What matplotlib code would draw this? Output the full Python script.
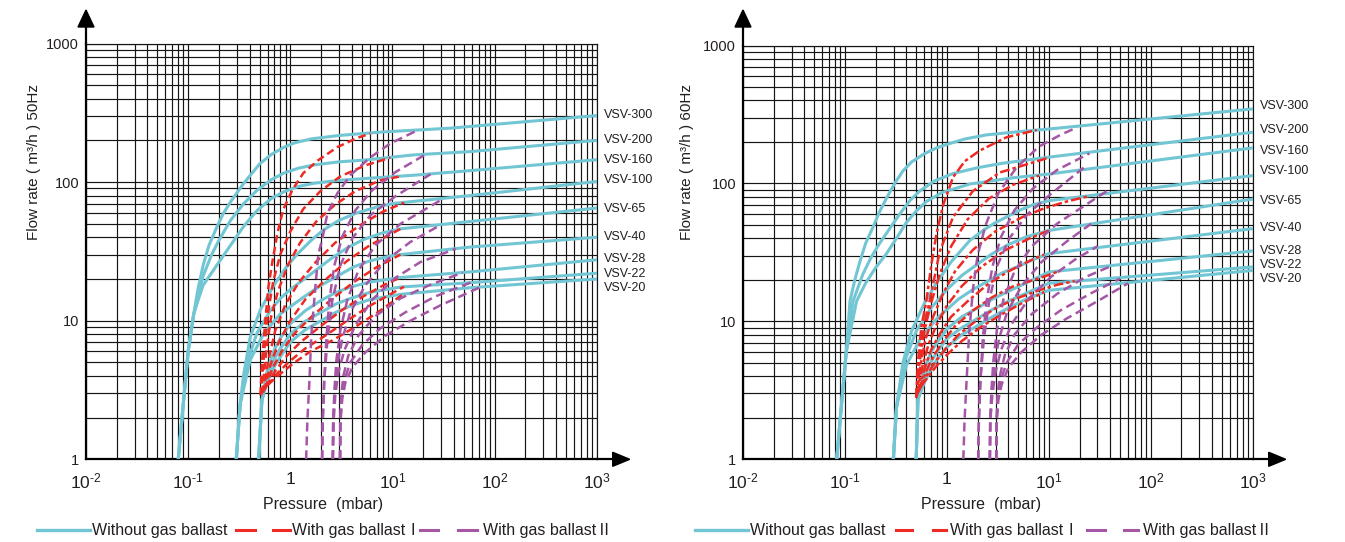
import matplotlib
matplotlib.use('Agg')
import matplotlib.pyplot as plt
from matplotlib.lines import Line2D
from matplotlib.patches import Polygon
from matplotlib.ticker import LogLocator, NullFormatter

# ---------------- data ----------------
MODELS = ['VSV-300', 'VSV-200', 'VSV-160', 'VSV-100', 'VSV-65',
          'VSV-40', 'VSV-28', 'VSV-22', 'VSV-20']
X_TICKS = [1e-2, 1e-1, 1, 1e1, 1e2, 1e3]
X_TICK_LABELS = [r'$\mathregular{10^{\text{-}2}}$', r'$\mathregular{10^{\text{-}1}}$', '1',
                 r'$\mathregular{10^{1}}$', r'$\mathregular{10^{2}}$', r'$\mathregular{10^{3}}$']
Y_TICKS = [1, 10, 100, 1000]
Y_TICK_LABELS = ['1', '10', '100', '1000']

# 50 Hz : (pressure mbar, flow m3/h)
CYAN_50 = {
    'VSV-300': ([0.08, 0.09, 0.10, 0.113, 0.125, 0.14, 0.16, 0.19, 0.22, 0.26, 0.35, 0.5, 0.65, 0.86, 1.1, 1.6, 3, 8, 37, 1000],
                [1, 2.6, 6, 11, 17, 25, 35, 47, 59, 72, 98, 135, 158, 178, 192, 205, 217, 230, 245, 302]),
    'VSV-200': ([0.08, 0.09, 0.10, 0.113, 0.125, 0.14, 0.17, 0.2, 0.26, 0.35, 0.47, 0.65, 0.86, 1.2, 1.7, 3, 5.2, 16, 58, 1000],
                [1, 2.6, 6, 11, 15, 21, 30, 38, 53, 70, 87, 104, 116, 126, 133, 140, 144, 157, 166, 200]),
    'VSV-160': ([0.08, 0.09, 0.10, 0.113, 0.125, 0.14, 0.19, 0.26, 0.35, 0.47, 0.65, 0.86, 1.2, 1.7, 3, 5.2, 16, 58, 1000],
                [1, 2.6, 6, 11, 14, 18, 25, 35, 48, 62, 76, 85, 93, 98, 103, 106, 112, 121, 145]),
    'VSV-100': ([0.296, 0.323, 0.35, 0.405, 0.51, 0.69, 0.9, 1.16, 1.6, 2.1, 3, 4.5, 7, 10, 58, 1000],
                [1, 2.5, 4.1, 7.6, 12, 18, 24, 30, 38, 45, 53, 60, 66, 70, 80, 101]),
    'VSV-65': ([0.296, 0.323, 0.376, 0.47, 0.64, 0.8, 1.0, 1.5, 2.5, 3.6, 5.2, 8, 12, 58, 1000],
               [1, 2.5, 4.9, 8.1, 11.9, 14.5, 16.8, 21, 28, 33.5, 38.5, 43, 46, 52, 65]),
    'VSV-40': ([0.296, 0.323, 0.405, 0.55, 0.8, 1.35, 2, 2.9, 4.2, 6, 9, 12, 58, 1000],
               [1, 2.5, 5.2, 8.1, 11.2, 14.8, 18, 21, 24.5, 27, 29, 30, 34, 40]),
    'VSV-28': ([0.49, 0.527, 0.6, 0.7, 0.8, 1, 1.4, 2, 2.8, 3.9, 6, 12, 58, 1000],
               [1, 2.66, 4.5, 6.2, 7.5, 9.5, 11.8, 14, 16, 17.5, 19, 20.5, 22.5, 27.5]),
    'VSV-22': ([0.49, 0.527, 0.6, 0.7, 0.8, 1, 1.4, 2, 2.8, 3.9, 6, 12, 58, 1000],
               [1, 2.66, 4, 5.3, 6.3, 8, 9.9, 11.5, 13.2, 14.5, 16, 17.5, 18.8, 22]),
    'VSV-20': ([0.49, 0.527, 0.6, 0.7, 0.8, 1, 1.4, 2, 2.8, 3.9, 6, 12, 58, 1000],
               [1, 2.66, 3.7, 4.7, 5.5, 7, 8.6, 10, 11.5, 12.8, 14.2, 15.5, 17.3, 20]),
}
RED_50 = {
    'VSV-300': ([0.51, 0.53, 0.57, 0.61, 0.67, 0.75, 0.85, 1.05, 1.34, 1.88, 2.9, 4.5, 6.1],
                [2.9, 5.2, 10, 17.4, 27, 43, 63, 88, 116, 144, 179, 208, 224]),
    'VSV-200': ([0.52, 0.556, 0.609, 0.681, 0.798, 1.0, 1.34, 1.97, 3.09, 5.43, 9.55],
                [2.9, 6.1, 11.8, 19.2, 30, 44, 64, 86, 110, 132, 150]),
    'VSV-160': ([0.531, 0.582, 0.651, 0.763, 0.956, 1.25, 1.8, 2.76, 4.34, 7.61, 12],
                [3, 6.1, 10.8, 16.6, 25.5, 36.6, 52, 69, 86, 103, 110]),
    'VSV-100': ([0.544, 0.609, 0.713, 0.893, 1.2, 1.76, 2.76, 4.86, 8, 13],
                [3.03, 5.16, 8.5, 13, 18.7, 26.3, 36.6, 49, 61, 71]),
    'VSV-65': ([0.556, 0.636, 0.763, 1.0, 1.4, 2.2, 3.6, 6, 9, 12],
               [3.13, 4.74, 6.86, 10, 14.2, 19.7, 27, 35, 41, 46]),
    'VSV-40': ([0.569, 0.667, 0.835, 1.12, 1.64, 2.6, 4.2, 6.8, 12],
               [3.24, 4.52, 6.1, 8.2, 10.8, 14.5, 19, 24, 30]),
    'VSV-28': ([0.582, 0.697, 0.893, 1.25, 1.97, 3.2, 5.2, 8.5, 12],
               [3.35, 4.23, 5.43, 6.97, 9.1, 11.9, 15, 18.3, 20.5]),
    'VSV-22': ([0.595, 0.729, 0.956, 1.4, 2.2, 3.6, 6, 9.5, 13],
               [3.4, 4.1, 5.0, 6.3, 7.8, 10, 12.8, 15.5, 17.6]),
    'VSV-20': ([0.609, 0.763, 1.05, 1.57, 2.58, 4.3, 7.2, 13],
               [3.47, 4.02, 4.87, 6.0, 7.2, 9, 11.5, 15.7]),
}
PURPLE_50 = {
    'VSV-300': ([1.43, 1.47, 1.54, 1.61, 1.76, 1.88, 2.06, 2.31, 2.89, 3.87, 6.09, 9.55, 17.5],
                [1, 1.9, 3.7, 8.1, 17.4, 30, 39, 59.5, 83, 112, 151, 190, 236]),
    'VSV-200': ([2.05, 2.08, 2.15, 2.25, 2.41, 2.7, 3.23, 4.34, 6.36, 10.7, 21],
                [1, 1.9, 3.7, 7.2, 14, 25, 40.4, 62.7, 87.5, 118, 158]),
    'VSV-160': ([2.05, 2.08, 2.15, 2.31, 2.58, 3.09, 4.05, 6.09, 10.7, 23.6],
                [1, 1.9, 3.7, 7.2, 14, 25, 39.4, 57.7, 79, 114]),
    'VSV-100': ([2.61, 2.63, 2.7, 2.83, 3.09, 3.62, 4.64, 6.81, 12, 31.5],
                [1, 1.9, 3.1, 5.2, 8.5, 14.2, 23, 35, 50, 76]),
    'VSV-65': ([2.61, 2.63, 2.73, 2.89, 3.23, 3.87, 5.43, 8.54, 15, 29.5],
               [1, 1.9, 3.1, 4.8, 7.4, 11.5, 18, 27, 37, 49]),
    'VSV-40': ([2.61, 2.66, 2.76, 2.95, 3.38, 4.34, 6.36, 10.7, 18.8, 41.7],
               [1, 1.9, 2.9, 4.2, 6.1, 9.3, 14.2, 20.4, 26.5, 33]),
    'VSV-28': ([3.07, 3.09, 3.16, 3.31, 3.7, 4.64, 6.81, 12, 23.6, 48.6],
               [1, 1.9, 2.9, 4.0, 5.6, 7.8, 10.8, 14.5, 18.2, 22.2]),
    'VSV-22': ([3.07, 3.09, 3.19, 3.38, 3.87, 5.08, 7.61, 13.4, 26.5, 58],
               [1, 1.9, 2.8, 3.7, 5, 6.7, 8.8, 11.5, 15, 18.8]),
    'VSV-20': ([3.07, 3.11, 3.23, 3.46, 4.05, 5.43, 8.54, 15, 29.5, 73],
               [1, 1.9, 2.74, 3.57, 4.6, 5.9, 7.8, 10, 12.9, 17.5]),
}

# 60 Hz
CYAN_60 = {
    'VSV-300': ([0.083, 0.093, 0.103, 0.112, 0.125, 0.14, 0.16, 0.188, 0.22, 0.26, 0.31, 0.37, 0.45, 0.6, 0.78, 1.0, 1.5, 2.45, 5, 10, 1000],
                [1, 2.6, 6, 14, 20, 27, 37, 48, 63, 80, 101, 123, 143, 164, 180, 192, 210, 225, 237, 248, 347]),
    'VSV-200': ([0.083, 0.093, 0.103, 0.12, 0.15, 0.18, 0.22, 0.28, 0.35, 0.44, 0.54, 0.75, 1.15, 2, 3.5, 10, 1000],
                [1, 2.6, 6, 14, 22, 29, 37, 48, 61, 76, 88, 104, 118, 130, 140, 155, 235]),
    'VSV-160': ([0.083, 0.093, 0.103, 0.13, 0.16, 0.2, 0.256, 0.32, 0.4, 0.5, 0.63, 0.9, 1.68, 4.5, 10, 1000],
                [1, 2.6, 6, 14, 19, 24.5, 31, 40, 52, 63, 74, 86, 99, 110, 117, 181]),
    'VSV-100': ([0.298, 0.321, 0.37, 0.45, 0.6, 0.79, 1.1, 1.68, 2.3, 3, 4, 5.2, 7, 10, 1000],
                [1, 2.4, 5, 8.5, 13.5, 19, 27, 38.6, 46, 52, 58, 64, 70, 75, 114]),
    'VSV-65': ([0.298, 0.321, 0.38, 0.5, 0.7, 1.0, 1.4, 2, 2.8, 4, 6, 10, 1000],
               [1, 2.4, 5, 8.5, 12.5, 17, 21.5, 26, 31, 36, 41, 45.6, 77]),
    'VSV-40': ([0.298, 0.321, 0.4, 0.55, 0.8, 1.3, 1.8, 2.5, 3.5, 5, 7, 10, 1000],
               [1, 2.4, 4.8, 7.5, 10.5, 14.5, 17, 19.5, 22.5, 25, 28, 31, 47]),
    'VSV-28': ([0.5, 0.52, 0.6, 0.7, 0.8, 1.0, 1.4, 2, 2.8, 4, 6, 10, 1000],
               [1, 2.7, 4.5, 6, 7, 8.8, 10.8, 12.5, 14.5, 16.5, 19, 22.8, 32.4]),
    'VSV-22': ([0.5, 0.52, 0.6, 0.7, 0.8, 1.0, 1.4, 2, 2.8, 4, 6, 10, 1000],
               [1, 2.7, 4, 5.1, 6, 7.5, 9, 10.5, 12.2, 14, 16, 18.9, 24.8]),
    'VSV-20': ([0.5, 0.52, 0.6, 0.7, 0.8, 1.0, 1.4, 2, 2.8, 4, 6, 10, 1000],
               [1, 2.7, 3.6, 4.5, 5.3, 6.5, 8, 9.3, 10.8, 12.5, 14.5, 16.8, 23.4]),
}
RED_60 = {
    'VSV-300': ([0.5, 0.52, 0.56, 0.63, 0.7, 0.79, 0.92, 1.15, 1.5, 2.1, 3.84, 7.6],
                [2.8, 5, 9, 14.2, 25, 43, 70, 111, 145, 173, 216, 244]),
    'VSV-200': ([0.5, 0.53, 0.58, 0.68, 0.85, 1.15, 1.8, 3.3, 7.0, 9.5],
                [2.8, 5, 8.5, 14.2, 32, 57, 88, 120, 142, 152]),
    'VSV-160': ([0.5, 0.54, 0.6, 0.7, 0.85, 1.1, 1.6, 2.6, 4.5, 8],
                [2.8, 5, 8.5, 13.5, 22, 35, 55, 78, 98, 114]),
    'VSV-100': ([0.51, 0.55, 0.62, 0.74, 0.92, 1.2, 1.8, 3, 5.5, 9, 15, 25],
                [2.9, 4.8, 7.5, 11, 16, 23, 33, 45, 57, 66, 74, 81]),
    'VSV-65': ([0.52, 0.57, 0.66, 0.8, 1.0, 1.4, 2.2, 3.8, 6.5, 10],
               [3, 4.6, 6.8, 9.6, 13, 18, 25, 33, 40, 45.6]),
    'VSV-40': ([0.53, 0.6, 0.7, 0.86, 1.1, 1.6, 2.5, 4, 6.5, 9],
               [3.1, 4.5, 6.2, 8.2, 10.8, 14, 18.5, 23, 27.5, 30.5]),
    'VSV-28': ([0.54, 0.62, 0.74, 0.92, 1.2, 1.8, 2.8, 4.5, 8, 13],
               [3.2, 4.3, 5.6, 7.2, 9.2, 12, 15, 18, 20.5, 23.3]),
    'VSV-22': ([0.55, 0.64, 0.77, 0.97, 1.3, 2, 3.2, 5, 8, 12, 18],
               [3.3, 4.1, 5.1, 6.3, 8, 10.3, 12.8, 14.8, 16.8, 18.4, 19.6]),
    'VSV-20': ([0.56, 0.66, 0.8, 1.02, 1.4, 2.2, 3.5, 5.5, 9],
               [3.4, 4, 4.8, 5.8, 7.2, 9.2, 11.3, 13.6, 16.3]),
}
PURPLE_60 = {
    'VSV-300': ([1.45, 1.49, 1.56, 1.65, 1.8, 2.0, 2.4, 3.2, 4.8, 8, 13, 19],
                [1, 1.9, 3.7, 8, 17, 30, 50, 85, 130, 185, 225, 255]),
    'VSV-200': ([2.03, 2.06, 2.13, 2.25, 2.45, 2.8, 3.4, 4.6, 7, 12, 25],
                [1, 1.9, 3.7, 7.5, 14, 25, 41, 64, 92, 125, 165]),
    'VSV-160': ([2.03, 2.06, 2.13, 2.3, 2.6, 3.1, 4.1, 6.2, 10.5, 22],
                [1, 1.9, 3.7, 7.3, 14, 25, 40, 60, 84, 130]),
    'VSV-100': ([2.64, 2.66, 2.73, 2.86, 3.1, 3.6, 4.6, 6.8, 12, 37],
                [1, 1.9, 3.1, 5.2, 8.7, 14.5, 23, 35, 51, 88]),
    'VSV-65': ([2.64, 2.66, 2.76, 2.92, 3.25, 3.9, 5.4, 8.5, 15, 26],
               [1, 1.9, 3.1, 4.8, 7.5, 11.7, 18, 27, 38, 51]),
    'VSV-40': ([2.64, 2.67, 2.79, 2.98, 3.4, 4.3, 6.3, 10.5, 18, 30],
               [1, 1.9, 2.9, 4.2, 6.2, 9.5, 14.5, 21, 28, 35]),
    'VSV-28': ([3.05, 3.07, 3.14, 3.3, 3.7, 4.6, 6.8, 12, 23, 40],
               [1, 1.9, 2.9, 4.0, 5.7, 8, 11.3, 15.8, 21, 25]),
    'VSV-22': ([3.05, 3.07, 3.17, 3.36, 3.85, 5.0, 7.6, 13, 26, 50],
               [1, 1.9, 2.8, 3.7, 5.0, 6.8, 9.0, 12, 16, 20.4]),
    'VSV-20': ([3.05, 3.09, 3.2, 3.45, 4, 5.4, 8.5, 15, 30, 60],
               [1, 1.9, 2.7, 3.5, 4.6, 6, 8, 10.5, 14, 18.9]),
}
# label heights (flow values beside the right edge)
LABEL_Q_50 = [304, 200, 144, 103, 63.5, 40.3, 27.7, 21.7, 17.3]
LABEL_Q_60 = [366, 242, 173, 124, 75.2, 47.7, 32.3, 25.5, 20.3]

# ---------------- style ----------------
W, H = 1345, 542
plt.rcParams['font.family'] = ['Liberation Sans', 'Noto Sans CJK SC', 'DejaVu Sans']
plt.rcParams['mathtext.fontset'] = 'custom'
plt.rcParams['mathtext.rm'] = 'Liberation Sans'
plt.rcParams['mathtext.it'] = 'Liberation Sans:italic'
plt.rcParams['mathtext.bf'] = 'Liberation Sans:bold'
plt.rcParams['lines.scale_dashes'] = False
CYAN = '#72C6D4'
RED = '#EE2A24'
PURPLE = '#A557A6'
GRID = '#151515'
TXT = '#231f20'

fig = plt.figure(figsize=(W / 100, H / 100), dpi=100)


def fx(x):
    return x / W


def fy(y):
    return 1 - y / H


def panel(L, R, T, B, cyan, red, purple, red_dash, purple_dash, label_q,
          ylabel, ylabel_x, xlabel_x, leg):
    ax = fig.add_axes([fx(L), fy(B), fx(R) - fx(L), fy(T) - fy(B)])
    ax.set_xscale('log')
    ax.set_yscale('log')
    ax.set_xlim(1e-2, 1e3)
    ax.set_ylim(1, 1000)
    ax.set_xticks(X_TICKS, X_TICK_LABELS)
    ax.set_yticks(Y_TICKS, Y_TICK_LABELS)
    ax.xaxis.set_minor_locator(LogLocator(base=10, subs=range(2, 10), numticks=20))
    ax.yaxis.set_minor_locator(LogLocator(base=10, subs=range(2, 10), numticks=20))
    ax.xaxis.set_minor_formatter(NullFormatter())
    ax.yaxis.set_minor_formatter(NullFormatter())
    ax.tick_params(which='both', length=0)
    ax.tick_params(axis='x', labelsize=12.5, pad=9, labelcolor=TXT)
    ax.tick_params(axis='y', labelsize=10.5, pad=5, labelcolor=TXT)
    ax.grid(which='both', color=GRID, lw=0.85)
    ax.set_axisbelow(True)
    for s in ('top', 'right'):
        ax.spines[s].set_linewidth(0.85)
        ax.spines[s].set_color(GRID)
    for s in ('left', 'bottom'):
        ax.spines[s].set_linewidth(1.6)
        ax.spines[s].set_color('black')

    for m in MODELS:
        p, q = cyan[m]
        ax.plot(p, q, color=CYAN, lw=2.2, solid_capstyle='round', solid_joinstyle='round', zorder=3)
    for m in MODELS:
        p, q = red[m]
        ax.plot(p, q, color=RED, lw=1.8, dashes=red_dash, dash_capstyle='butt', zorder=4)
    for m in MODELS:
        p, q = purple[m]
        ax.plot(p, q, color=PURPLE, lw=1.8, dashes=purple_dash, dash_capstyle='butt', zorder=5)

    for m, yq in zip(MODELS, label_q):
        ax.annotate(m, xy=(1, yq), xycoords=('axes fraction', 'data'),
                    xytext=(5.5, 0), textcoords='offset points',
                    ha='left', va='center', fontsize=9, color=TXT)

    # axis arrows
    fig.add_artist(Line2D([fx(L), fx(L)], [fy(T), fy(25)], transform=fig.transFigure,
                          color='black', lw=1.6))
    fig.add_artist(Polygon([(fx(L), fy(10)), (fx(L - 8), fy(27)), (fx(L + 8), fy(27))],
                           closed=True, transform=fig.transFigure, color='black'))
    fig.add_artist(Line2D([fx(R), fx(R + 30)], [fy(B), fy(B)], transform=fig.transFigure,
                          color='black', lw=1.6))
    fig.add_artist(Polygon([(fx(R + 33), fy(B)), (fx(R + 16), fy(B - 7)), (fx(R + 16), fy(B + 7))],
                           closed=True, transform=fig.transFigure, color='black'))

    fig.text(fx(ylabel_x), fy(162), ylabel, rotation=90, ha='center', va='center',
             fontsize=11, color=TXT)
    fig.text(fx(xlabel_x), fy(504), 'Pressure  (mbar)', ha='center', va='center',
             fontsize=11.5, color=TXT)

    # legend
    ly = fy(530)
    cx0, cx1, tx1, r1, r2, tx2, p1, p2, tx3 = leg
    fig.add_artist(Line2D([fx(cx0), fx(cx1)], [ly, ly], transform=fig.transFigure, color=CYAN, lw=2.4))
    fig.text(fx(tx1), ly, 'Without gas ballast', ha='left', va='center', fontsize=11.5, color=TXT)
    for a in (r1, r2):
        fig.add_artist(Line2D([fx(a[0]), fx(a[1])], [ly, ly], transform=fig.transFigure, color=RED, lw=2.2))
    fig.text(fx(tx2), ly, 'With gas ballast\u2160', ha='left', va='center', fontsize=11.5, color=TXT)
    for a in (p1, p2):
        fig.add_artist(Line2D([fx(a[0]), fx(a[1])], [ly, ly], transform=fig.transFigure, color=PURPLE, lw=2.2))
    fig.text(fx(tx3), ly, 'With gas ballast\u2161', ha='left', va='center', fontsize=11.5, color=TXT)
    return ax


panel(86, 596.7, 43.5, 459.3, CYAN_50, RED_50, PURPLE_50, (5.5, 3.0), (6.5, 3.5), LABEL_Q_50,
      'Flow rate ( m\u00b3/h ) 50Hz', 34, 323,
      (37, 90, 92, (236, 255), (273, 290), 292, (420, 438), (458, 477), 483))
panel(743, 1252.7, 45.5, 459.3, CYAN_60, RED_60, PURPLE_60, (7.0, 2.2, 2.5, 2.2), (6.5, 3.5), LABEL_Q_60,
      'Flow rate ( m\u00b3/h ) 60Hz', 687, 981,
      (695, 748, 750, (896, 912), (933, 946), 950, (1087, 1105), (1124, 1138), 1143))

fig.savefig('out.png', dpi=100)
